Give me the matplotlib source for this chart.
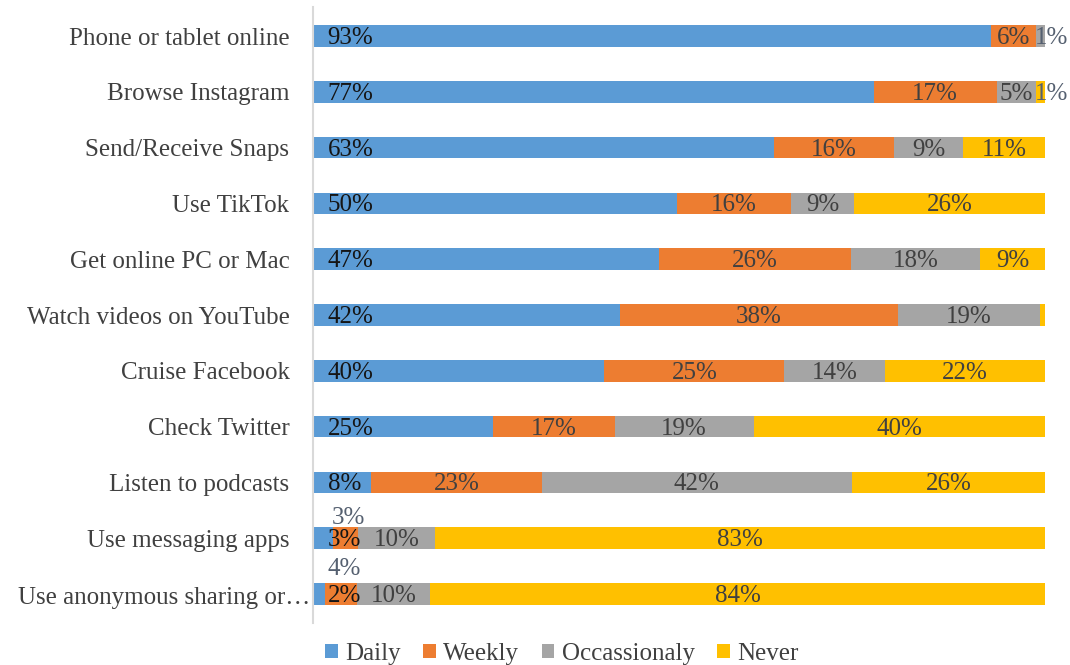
import matplotlib
matplotlib.use("Agg")
import matplotlib.pyplot as plt
from matplotlib.patches import Patch

categories = ["Phone or tablet online", "Browse Instagram", "Send/Receive Snaps",
              "Use TikTok", "Get online PC or Mac", "Watch videos on YouTube",
              "Cruise Facebook", "Check Twitter", "Listen to podcasts",
              "Use messaging apps", "Use anonymous sharing or\u2026"]
series_names = ["Daily", "Weekly", "Occassionaly", "Never"]
daily = [92.6, 76.6, 63.0, 49.7, 47.3, 41.9, 39.8, 24.6, 7.9, 2.8, 1.6]
weekly = [6.2, 16.8, 16.4, 15.6, 26.2, 38.0, 24.6, 16.6, 23.4, 3.4, 4.4]
occasionally = [1.2, 5.4, 9.4, 8.6, 17.6, 19.4, 13.8, 19.0, 42.3, 10.4, 10.0]
never = [0.0, 1.2, 11.2, 26.1, 8.9, 0.7, 21.8, 39.8, 26.4, 83.4, 84.0]
colors = ["#5B9BD5", "#ED7D31", "#A5A5A5", "#FFC000"]

plt.rcParams['font.family'] = ['Liberation Serif', 'DejaVu Serif']
fig = plt.figure(figsize=(10.7, 6.65), dpi=100)
ax = fig.add_axes([313/1070, 1-623/665, (1045-313)/1070, (623-7)/665])

series = [daily, weekly, occasionally, never]
ypos = list(range(len(categories)))
left = [0.0]*len(categories)
fs = 18
ny = 0.035  # small vertical nudge so digits sit centred on the bar
for si, vals in enumerate(series):
    ax.barh(ypos, vals, left=left, height=0.39, color=colors[si], clip_on=False, zorder=2)
    for i, v in enumerate(vals):
        if v < 1:
            continue
        label = f"{round(v):d}%"
        if si == 0:
            ax.text(2.0, i + ny, label, ha='left', va='center', fontsize=fs,
                    color='#151515', zorder=3)
        elif si == 1 and i >= 9:
            # small segments: label moved above the bar
            dy = -0.36 if i == 9 else -0.45
            xoff = 0.3 if i == 9 else 0.5
            ax.text(left[i] + v/2 + xoff, i + dy, label, ha='center', va='center',
                    fontsize=fs, color='#556070', zorder=3, clip_on=False)
        elif v < 2:
            ax.text(left[i] - 0.2, i + ny, label, ha='left', va='center', fontsize=fs,
                    color='#556070', zorder=3, clip_on=False)
        else:
            ax.text(left[i] + v/2, i + ny, label, ha='center', va='center', fontsize=fs,
                    color='#404040', zorder=3, clip_on=False)
    left = [l + v for l, v in zip(left, vals)]

ax.set_xlim(0, 100)
ax.set_ylim(len(categories) - 0.48, -0.52)
ax.set_yticks(ypos)
ticklabels = list(categories)
ticklabels[-1] = ""
ax.set_yticklabels(ticklabels, fontsize=fs, color='#404040')
ax.tick_params(axis='y', length=0, pad=17)
# the last (truncated) category label sits closer to the axis, as in the original
ax.annotate(categories[-1], xy=(0, len(categories) - 1), xytext=(-3, -4),
            textcoords='offset pixels', ha='right', va='center', fontsize=fs,
            color='#404040', annotation_clip=False)
ax.set_xticks([])
for s in ['top', 'right', 'bottom']:
    ax.spines[s].set_visible(False)
ax.spines['left'].set_color('#d9d9d9')
ax.spines['left'].set_linewidth(1.5)

handles = [Patch(facecolor=c, edgecolor='none') for c in colors]
fig.legend(handles, series_names, loc='center', bbox_to_anchor=(0.525, 0.017),
           ncol=4, frameon=False, fontsize=fs, handlelength=0.5, handleheight=0.5,
           handletextpad=0.3, columnspacing=0.9, labelcolor='#404040',
           borderpad=0, borderaxespad=0)

fig.savefig("out.png", dpi=100)
